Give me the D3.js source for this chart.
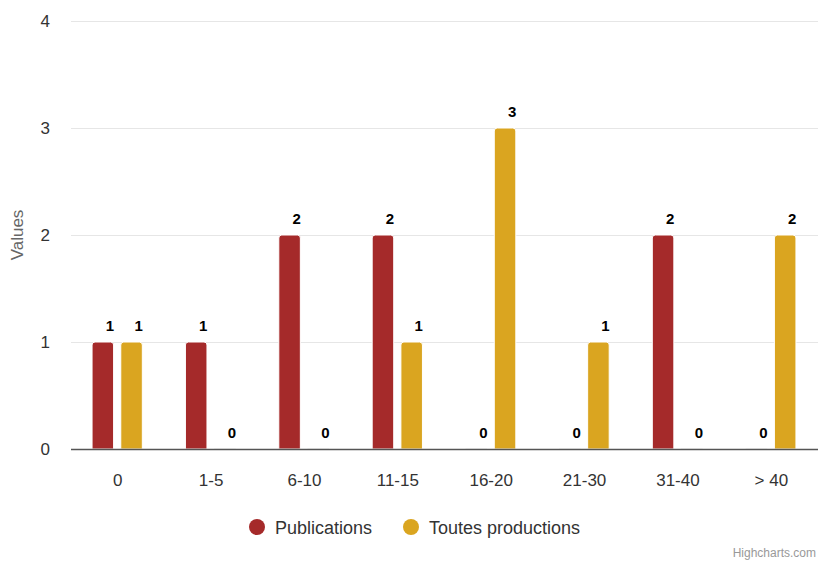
<!DOCTYPE html>
<html>
<head>
<meta charset="utf-8">
<script src="https://cdn.jsdelivr.net/npm/d3@7"></script>
<style>
  body { margin: 0; background: #fff; }
  svg { font-family: "Liberation Sans", Arial, sans-serif; }
</style>
</head>
<body>
<div id="chart"></div>
<script>
const categories = ['0', '1-5', '6-10', '11-15', '16-20', '21-30', '31-40', '> 40'];
const seriesNames = ['Publications', 'Toutes productions'];
const publications = [1, 1, 2, 2, 0, 0, 2, 0];
const toutes = [1, 0, 0, 1, 3, 1, 0, 2];
const yTicks = [0, 1, 2, 3, 4];
const colors = ['#a52a2a', '#daa520'];

const width = 818, height = 562;
const margin = { top: 21, right: 0, bottom: 113, left: 71 };

const svg = d3.select('#chart').append('svg')
    .attr('width', width)
    .attr('height', height);

const x = d3.scaleBand()
    .domain(categories)
    .range([margin.left, width - margin.right]);

const x1 = d3.scaleBand()
    .domain(seriesNames)
    .range([0, x.bandwidth()])
    .paddingOuter(0.75)
    .paddingInner(0.25);

const y = d3.scaleLinear()
    .domain([0, 4])
    .range([height - margin.bottom, margin.top]);

// grid
svg.append('g')
    .selectAll('line')
    .data(yTicks)
    .join('line')
    .attr('x1', margin.left)
    .attr('x2', width - margin.right)
    .attr('y1', d => Math.round(y(d)) + 0.5)
    .attr('y2', d => Math.round(y(d)) + 0.5)
    .attr('stroke', '#e6e6e6');

// y labels
svg.append('g')
    .selectAll('text')
    .data(yTicks)
    .join('text')
    .attr('x', 50)
    .attr('y', d => y(d) + 6)
    .attr('text-anchor', 'end')
    .attr('fill', '#333')
    .style('font-size', '17px')
    .text(d => d);

svg.append('text')
    .attr('transform', `translate(23,${(margin.top + height - margin.bottom) / 2}) rotate(-90)`)
    .attr('text-anchor', 'middle')
    .attr('fill', '#666')
    .style('font-size', '17px')
    .text('Values');

const rows = categories.map((c, i) => ({ cat: c, vals: [publications[i], toutes[i]] }));

const group = svg.append('g')
    .selectAll('g')
    .data(rows)
    .join('g')
    .attr('transform', d => `translate(${x(d.cat) - 0.5},0)`);

const r = 3;
group.selectAll('path')
    .data(d => d.vals.map((v, j) => ({ name: seriesNames[j], v, j })))
    .join('path')
    .attr('d', d => {
        const x0 = x1(d.name), w = x1.bandwidth();
        const top = y(d.v), bot = y(0);
        if (d.v === 0) return `M${x0},${bot}h${w}`;
        return `M${x0},${bot}V${top + r}Q${x0},${top} ${x0 + r},${top}H${x0 + w - r}Q${x0 + w},${top} ${x0 + w},${top + r}V${bot}Z`;
    })
    .attr('fill', d => colors[d.j])
    .attr('stroke', d => d.v === 0 ? '#eee' : '#fff')
    .attr('stroke-width', 1);

group.selectAll('text')
    .data(d => d.vals.map((v, j) => ({ name: seriesNames[j], v, j })))
    .join('text')
    .attr('x', d => x1(d.name) + x1.bandwidth() / 2 + 7)
    .attr('y', d => y(d.v) - 11)
    .attr('text-anchor', 'middle')
    .attr('fill', '#000')
    .style('font-size', '15px')
    .style('font-weight', 'bold')
    .text(d => d.v);

// baseline
svg.append('line')
    .attr('x1', margin.left)
    .attr('x2', width - margin.right)
    .attr('y1', y(0) + 0.5)
    .attr('y2', y(0) + 0.5)
    .attr('stroke', '#555')
    .attr('stroke-width', 1.5);

// x labels
svg.append('g')
    .selectAll('text')
    .data(categories)
    .join('text')
    .attr('x', d => x(d) + x.bandwidth() / 2)
    .attr('y', 486)
    .attr('text-anchor', 'middle')
    .attr('fill', '#333')
    .style('font-size', '17px')
    .text(d => d);

// legend
const legendX = [257, 411];
const legend = svg.append('g')
    .selectAll('g')
    .data(seriesNames)
    .join('g')
    .attr('transform', (d, i) => `translate(${legendX[i]},527)`);
legend.append('circle').attr('r', 8).attr('fill', (d, i) => colors[i]);
legend.append('text')
    .attr('x', 18)
    .attr('y', 6.5)
    .attr('fill', '#333')
    .style('font-size', '18px')
    .text(d => d);

svg.append('text')
    .attr('x', width - 2)
    .attr('y', 557)
    .attr('text-anchor', 'end')
    .attr('fill', '#999')
    .style('font-size', '12px')
    .text('Highcharts.com');
</script>
</body>
</html>
